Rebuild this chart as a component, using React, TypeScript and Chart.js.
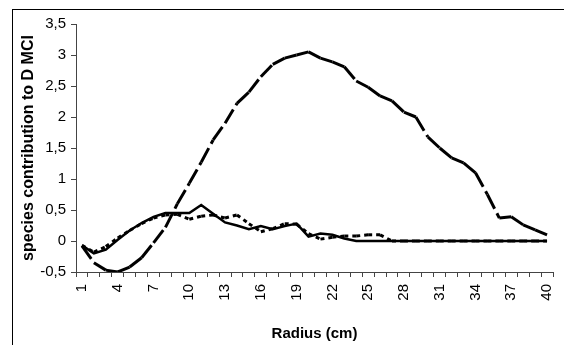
import React, { useEffect, useRef } from 'react';
import { Chart, registerables } from 'chart.js';

Chart.register(...registerables);

const radiusLabels = [
  '1', '2', '3', '4', '5', '6', '7', '8', '9', '10',
  '11', '12', '13', '14', '15', '16', '17', '18', '19', '20',
  '21', '22', '23', '24', '25', '26', '27', '28', '29', '30',
  '31', '32', '33', '34', '35', '36', '37', '38', '39', '40',
];

const dashedSeries = [
  -0.08, -0.35, -0.47, -0.5, -0.42, -0.27, -0.03, 0.22, 0.6, 0.93,
  1.27, 1.63, 1.9, 2.22, 2.4, 2.65, 2.85, 2.95, 3.0, 3.05,
  2.95, 2.89, 2.81, 2.58, 2.48, 2.34, 2.26, 2.08, 2.0, 1.68,
  1.5, 1.34, 1.26, 1.1, 0.75, 0.37, 0.39, 0.26, 0.18, 0.1,
];

const solidSeries = [
  -0.07, -0.2, -0.14, 0.02, 0.17, 0.29, 0.39, 0.45, 0.45, 0.45,
  0.58, 0.44, 0.3, 0.25, 0.19, 0.24, 0.19, 0.24, 0.28, 0.07,
  0.12, 0.1, 0.04, 0, 0, 0, 0, 0, 0, 0,
  0, 0, 0, 0, 0, 0, 0, 0, 0, 0,
];

const dottedSeries = [
  -0.07, -0.18, -0.09, 0.05, 0.17, 0.28, 0.37, 0.42, 0.43, 0.35,
  0.4, 0.42, 0.37, 0.42, 0.28, 0.15, 0.2, 0.28, 0.27, 0.12,
  0.03, 0.06, 0.08, 0.08, 0.1, 0.1, 0, 0, 0, 0,
  0, 0, 0, 0, 0, 0, 0, 0, 0, 0,
];

const yTicks = [-0.5, 0, 0.5, 1, 1.5, 2, 2.5, 3, 3.5];

const FONT = "'Liberation Sans', Arial, sans-serif";
const AXIS = '#444444';

// restart the dash pattern at every segment, as the original renderer does
const restartDash = {
  borderDashOffset: (ctx: any) => (ctx.p0DataIndex % 2 ? 0.01 : 0),
};

export default function App() {
  const canvasRef = useRef<HTMLCanvasElement | null>(null);

  useEffect(() => {
    const canvas = canvasRef.current;
    if (!canvas) return;
    const chart = new Chart(canvas, {
      type: 'line',
      data: {
        labels: radiusLabels,
        datasets: [
          {
            label: 'dashed',
            data: dashedSeries,
            borderColor: '#000',
            borderWidth: 3,
            borderDash: [16, 5],
            borderCapStyle: 'butt',
            fill: false,
            pointRadius: 0,
            segment: restartDash,
          },
          {
            label: 'dotted',
            data: dottedSeries,
            borderColor: '#000',
            borderWidth: 3,
            borderDash: [4, 4],
            borderCapStyle: 'butt',
            fill: false,
            pointRadius: 0,
            segment: restartDash,
          },
          {
            label: 'solid',
            data: solidSeries,
            borderColor: '#000',
            borderWidth: 2.5,
            fill: false,
            pointRadius: 0,
          },
        ],
      },
      options: {
        responsive: false,
        animation: false,
        layout: { padding: { left: 0, top: 24, right: 11, bottom: 0 } },
        plugins: {
          legend: { display: false },
          tooltip: { enabled: false },
        },
        elements: { line: { tension: 0 }, point: { radius: 0 } },
        scales: {
          x: {
            type: 'category',
            offset: true,
            grid: {
              offset: true,
              drawOnChartArea: false,
              drawTicks: true,
              tickLength: 5,
              color: AXIS,
            },
            border: { display: true, color: AXIS, width: 1 },
            ticks: {
              autoSkip: false,
              minRotation: 90,
              maxRotation: 90,
              padding: 7,
              color: '#000',
              font: { family: FONT, size: 15 },
              callback: (_v: any, i: number) => (i % 3 === 0 ? radiusLabels[i] : ''),
            },
            title: {
              display: true,
              text: 'Radius (cm)',
              color: '#000',
              font: { family: FONT, size: 15, weight: 'bold' },
              padding: { top: 0, bottom: 2 },
            },
            afterFit: (s: any) => {
              s.height = 73;
              s.paddingLeft = 0;
              s.paddingRight = 0;
            },
          },
          y: {
            type: 'linear',
            min: yTicks[0],
            max: yTicks[yTicks.length - 1],
            grid: {
              drawOnChartArea: false,
              drawTicks: true,
              tickLength: 5,
              color: AXIS,
            },
            border: { display: true, color: AXIS, width: 1 },
            afterBuildTicks: (s: any) => {
              s.ticks = yTicks.map((v) => ({ value: v }));
            },
            ticks: {
              padding: 5,
              color: '#000',
              font: { family: FONT, size: 15 },
              callback: (v: any) => String(Math.round(Number(v) * 10) / 10).replace('.', ','),
            },
            title: {
              display: true,
              text: 'species contribution to D MCI',
              color: '#000',
              font: { family: FONT, size: 16, weight: 'bold' },
              padding: { top: 19, bottom: 0 },
            },
            afterFit: (s: any) => {
              s.width = 76;
              s.paddingTop = 0;
              s.paddingBottom = 0;
            },
          },
        },
      },
    } as any);
    return () => chart.destroy();
  }, []);

  return (
    <div
      style={{
        position: 'fixed',
        left: 0,
        top: 0,
        width: 564,
        height: 345,
        background: '#fff',
        overflow: 'hidden',
      }}
    >
      <div
        style={{
          position: 'absolute',
          left: 12,
          top: 9,
          width: 700,
          height: 500,
          borderLeft: '1px solid #000',
          borderTop: '1px solid #000',
        }}
      />
      <canvas
        ref={canvasRef}
        width={564}
        height={345}
        style={{ position: 'absolute', left: 0, top: 0 }}
      />
    </div>
  );
}
